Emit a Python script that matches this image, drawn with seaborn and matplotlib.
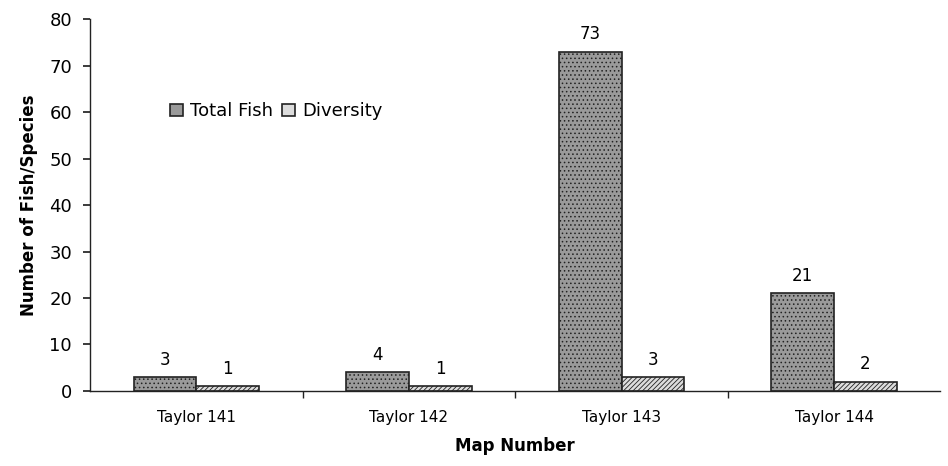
import matplotlib
matplotlib.use("Agg")
import matplotlib.pyplot as plt
import seaborn as sns
import pandas as pd

maps = ["Taylor 141", "Taylor 142", "Taylor 143", "Taylor 144"]
total_fish = [3, 4, 73, 21]
diversity = [1, 1, 3, 2]
series = ["Total Fish", "Diversity"]

df = pd.DataFrame({
    "Map": maps * 2,
    "Count": total_fish + diversity,
    "Series": [series[0]] * len(maps) + [series[1]] * len(maps),
})

sns.set_theme(style="white")
plt.rcParams["font.family"] = ["DejaVu Sans"]
plt.rcParams["hatch.linewidth"] = 0.6
plt.rcParams["text.color"] = "black"
plt.rcParams["axes.labelcolor"] = "black"
plt.rcParams["xtick.color"] = "black"
plt.rcParams["ytick.color"] = "black"

fig = plt.figure(figsize=(9.48, 4.66), dpi=100)
ax = fig.add_axes([0.095, 0.161, 0.897, 0.798])

sns.barplot(data=df, x="Map", y="Count", hue="Series", ax=ax,
            palette=["#9a9a9a", "#dcdcdc"], width=0.59, gap=0,
            edgecolor="#222222", linewidth=1.2, saturation=1)

hatches = {"Total Fish": "....", "Diversity": "///////"}
for cont, name in zip(ax.containers, series):
    for bar in cont:
        bar.set_hatch(hatches[name])
    ax.bar_label(cont, padding=6, fontsize=12, color="black")

ax.set_ylim(0, 80)
ax.set_yticks(range(0, 81, 10))
ax.set_xlim(-0.5, len(maps) - 0.5)
ax.tick_params(axis="y", labelsize=13, left=True, length=5, color="#222222", pad=8)
ax.tick_params(axis="x", labelsize=11, bottom=False, pad=8)
# tick marks on the category boundaries
ax.set_xticks([i + 0.5 for i in range(len(maps) - 1)], minor=True)
ax.tick_params(axis="x", which="minor", bottom=True, length=5, color="#222222", direction="out")

for s in ["top", "right"]:
    ax.spines[s].set_visible(False)
for s in ["left", "bottom"]:
    ax.spines[s].set_color("#222222")
    ax.spines[s].set_linewidth(1.0)

ax.set_xlabel("Map Number", fontsize=12, fontweight="bold", labelpad=8)
ax.set_ylabel("Number of Fish/Species", fontsize=12, fontweight="bold", labelpad=8)

leg = ax.legend(loc="upper left", bbox_to_anchor=(0.075, 0.82), ncol=2, frameon=False,
                fontsize=13, handlelength=0.7, handleheight=0.7, handletextpad=0.4,
                columnspacing=0.5)

fig.savefig("out.png", dpi=100)
